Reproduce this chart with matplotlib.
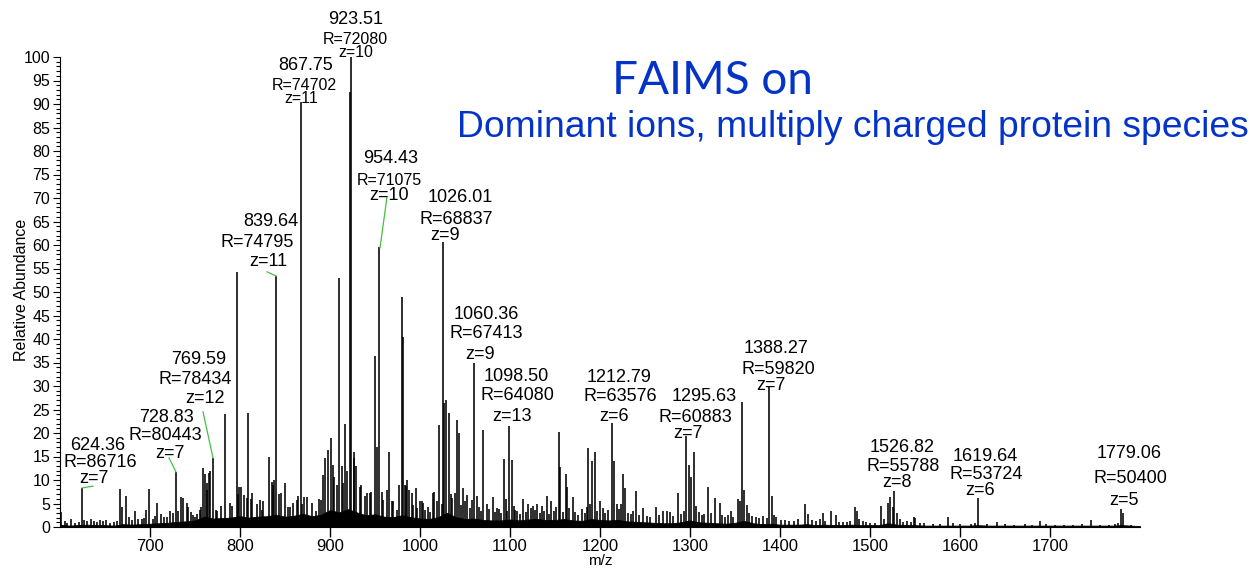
import numpy as np
import matplotlib.pyplot as plt
from matplotlib.ticker import MultipleLocator

plt.rcParams['font.family'] = ['Liberation Sans', 'DejaVu Sans']

# labelled ions: m/z, relative abundance, resolution, charge
ann_mz = [624.36, 728.83, 769.59, 839.64, 867.75, 923.51, 954.43, 1026.01,
          1060.36, 1098.50, 1212.79, 1295.63, 1388.27, 1526.82, 1619.64, 1779.06]
ann_ab = [8.3, 11.7, 14.7, 53.4, 90.5, 100.0, 59.5, 60.6,
          34.8, 21.4, 22.2, 19.3, 29.7, 7.6, 6.1, 3.8]
ann_res = [86716, 80443, 78434, 74795, 74702, 72080, 71075, 68837,
           67413, 64080, 63576, 60883, 59820, 55788, 53724, 50400]
ann_z = [7, 7, 12, 11, 11, 10, 10, 9, 9, 13, 6, 7, 7, 8, 6, 5]

# other centroids
peak_mz = [601, 612, 630, 644, 656, 667, 668.5, 673, 683, 691, 696, 699, 708, 718.5,
           722, 734, 740.7, 742.6, 750, 759, 761, 763, 767, 774, 779, 783, 790.7,
           796.6, 798, 801, 804.8, 809, 811.9, 818.5, 824, 832, 836.3, 843, 850,
           853.7, 859, 864, 871, 874.8, 879.6, 888, 894.4, 897.8, 901, 903, 907.4,
           910, 913, 917, 918.5, 922.5, 927, 929, 934.4, 940.7, 946, 950, 952,
           957.4, 965, 968.5, 974, 980, 981, 984.4, 988, 990.7, 995.5, 1002, 1015,
           1021, 1027, 1029, 1032.6, 1036, 1040.7, 1043, 1048, 1052, 1063, 1070.4,
           1074.4, 1080.7, 1085, 1093, 1095.6, 1102, 1114.8, 1120, 1125, 1130, 1135,
           1140.7, 1146, 1154, 1156, 1162, 1163.7, 1169.6, 1179.6, 1187, 1191, 1194,
           1200, 1215, 1218.5, 1226, 1227.8, 1240, 1248, 1262, 1270, 1274, 1277.8,
           1287, 1299.3, 1301, 1304.4, 1320.4, 1327.8, 1333, 1345, 1353.7, 1355.6,
           1358, 1360, 1363, 1390.7, 1396, 1401, 1428, 1431, 1447.4, 1456.3, 1461.9,
           1474, 1483.3, 1485, 1491.9, 1500, 1512, 1520, 1522, 1525, 1530, 1537,
           1549, 1550, 1570, 1587, 1640.7, 1688.9, 1746, 1772, 1781]
peak_ab = [3.2, 1.8, 1.3, 1.5, 0.9, 8.0, 4.3, 6.6, 3.5, 1.6, 3.6, 8.1, 5.1, 2.1,
           3.4, 6.4, 5.1, 4.2, 2.1, 12.6, 11.2, 9.4, 12.0, 3.4, 4.5, 24.0, 4.5,
           54.3, 7.0, 8.6, 6.8, 24.3, 6.0, 5.0, 3.6, 15.0, 8.9, 7.0, 9.3,
           4.3, 5.2, 6.5, 6.4, 6.4, 5.1, 6.0, 14.7, 16.4, 19.0, 13.2, 9.0,
           53.0, 13.0, 22.0, 12.0, 92.5, 16.0, 13.0, 9.0, 7.3, 7.5, 36.4, 17.0,
           7.5, 16.0, 5.5, 3.6, 49.0, 40.4, 8.7, 7.9, 7.3, 8.3, 5.5, 7.4,
           21.8, 26.4, 27.0, 24.3, 6.2, 22.8, 20.0, 8.3, 6.8, 6.6, 20.6,
           4.9, 6.4, 4.0, 14.4, 6.0, 14.2, 5.9, 5.0, 4.5, 5.0, 4.5,
           6.6, 5.5, 20.2, 12.8, 11.2, 8.5, 6.3, 3.8, 16.8, 14.0, 16.0,
           5.5, 14.0, 4.8, 11.2, 8.3, 7.6, 4.1, 4.2, 3.5, 3.3, 3.2,
           7.2, 13.2, 10.7, 16.0, 8.6, 6.2, 5.1, 3.4, 6.0, 5.5,
           26.7, 7.9, 4.7, 6.5, 2.2, 1.5, 5.0, 2.8, 3.0, 3.5, 2.5,
           1.0, 4.3, 3.5, 1.3, 0.9, 4.5, 5.1, 6.3, 4.2, 3.0, 1.0,
           2.2, 2.0, 0.7, 2.1, 1.1, 1.2, 1.5, 0.7, 3.0]

# low-level grass between the main centroids
grass_mz = [605, 608, 617, 621, 627, 634, 638, 641, 648, 651, 660, 663, 677, 680,
            687, 693, 703, 705, 712, 715, 725, 731, 737, 745, 747.4, 752, 755, 757,
            763.7, 766, 773.3, 788.9, 799, 807.4, 813, 822, 826, 835, 838, 845,
            855.6, 863, 868.5, 884.6, 890, 892.6, 904.4, 914, 926.7, 933.3, 938.9,
            944, 959, 963, 970, 977, 983.3, 986, 992.6, 997, 1000, 1003.7, 1006,
            1009, 1011, 1014.8, 1018.5, 1024, 1034, 1038.9, 1046, 1050, 1055,
            1057.4, 1066, 1068, 1077, 1083, 1088, 1090, 1097, 1104, 1106, 1108,
            1111, 1118, 1123, 1128, 1133, 1138, 1143, 1149, 1151, 1159, 1166, 1172,
            1175, 1183, 1185, 1189, 1197, 1203, 1206, 1209, 1221, 1223, 1231, 1234,
            1237, 1243, 1252, 1256, 1265, 1281, 1290, 1293, 1307, 1310, 1313, 1316,
            1323, 1336, 1339, 1342, 1348, 1366, 1369, 1373, 1377, 1381, 1385, 1393,
            1405, 1410, 1415, 1420, 1435, 1440, 1444, 1450, 1466, 1470, 1478, 1488,
            1495, 1505, 1515, 1533, 1541, 1545, 1555, 1560, 1578, 1592, 1600, 1612,
            1617, 1630, 1650, 1660, 1672, 1680, 1695, 1705, 1715, 1725, 1735, 1755,
            1765, 1776, 1790]
grass_ab = [1.2, 0.8, 0.9, 1.1, 1.4, 1.6, 1.2, 1.0, 1.2, 1.4, 1.0, 1.2, 2.2, 1.4,
            1.8, 2.0, 1.8, 2.4, 2.8, 2.2, 3.0, 3.5, 6.1, 3.2, 2.6, 2.8, 3.6, 4.2,
            7.9, 11.4, 3.6, 5.1, 8.6, 6.2, 7.2, 5.7, 5.5, 9.6, 10.0, 7.2,
            4.3, 5.7, 4.8, 3.3, 5.7, 11.0, 10.7, 9.3, 14.7, 8.6, 6.5,
            7.2, 5.7, 7.9, 5.5, 8.9, 8.9, 10.0, 4.7, 4.0, 5.5, 5.1, 3.6,
            4.2, 3.2, 7.2, 5.5, 5.0, 7.0, 7.2, 4.6, 5.5, 4.0,
            5.7, 4.3, 3.5, 3.8, 3.2, 3.8, 3.0, 3.5, 4.5, 3.6, 3.5,
            2.8, 3.2, 4.0, 3.6, 3.0, 3.3, 2.8, 3.5, 4.2, 3.1, 4.0, 3.2,
            2.6, 3.0, 4.2, 5.0, 3.4, 4.0, 3.0, 3.6, 3.8, 5.0, 3.0, 2.8,
            3.5, 2.6, 2.4, 2.2, 2.6, 2.3, 2.8, 3.5, 4.5, 3.2, 2.5, 2.8,
            3.0, 2.6, 2.2, 2.5, 2.2, 3.0, 2.4, 2.2, 2.0, 2.4, 2.0, 2.6,
            1.4, 1.2, 1.3, 1.6, 1.4, 1.2, 1.6, 1.3, 1.0, 1.1, 1.3, 1.6,
            1.0, 0.9, 1.6, 1.6, 1.2, 1.0, 0.8, 0.9, 0.7, 0.8, 0.7, 0.6,
            0.8, 0.6, 0.6, 0.5, 0.6, 0.5, 0.6, 0.5, 0.5, 0.5, 0.6, 0.5,
            0.5, 0.8, 0.5]

# noise floor, every 10 m/z from 600 to 1800
floor_ab = [0.5, 0.3, 0.4, 0.5, 0.4, 0.4, 0.3, 0.6, 0.5, 0.6,
            0.7, 0.8, 0.9, 1.1, 1.2, 1.4, 2.2, 1.8, 1.9, 2.0,
            2.3, 2.0, 2.2, 2.3, 2.6, 2.2, 2.4, 2.8, 2.3, 2.6,
            3.6, 3.1, 3.8, 3.1, 2.5, 2.7, 2.2, 2.1, 2.5, 2.1,
            1.8, 1.7, 2.1, 3.0, 2.1, 1.7, 1.8, 1.5, 1.4, 1.4,
            1.6, 1.4, 1.6, 1.7, 1.5, 1.5, 1.7, 1.4, 1.3, 1.7,
            1.5, 1.4, 1.5, 1.2, 1.1, 1.0, 0.9, 0.8, 0.8, 1.0,
            1.4, 1.0, 0.9, 0.8, 0.7, 0.9, 1.3, 0.8, 0.6, 0.7,
            0.5, 0.5, 0.5, 0.6, 0.4, 0.5, 0.4, 0.4, 0.5, 0.4,
            0.4, 0.4, 0.8, 0.5, 0.4, 0.4, 0.3, 0.3, 0.3, 0.3,
            0.3, 0.3, 0.4, 0.3, 0.3, 0.3, 0.3, 0.3, 0.3, 0.3,
            0.3, 0.3, 0.3, 0.3, 0.3, 0.3, 0.3, 0.3, 0.4, 0.3, 0.2]
floor_mz = np.arange(600, 1801, 10)

# text placement for each labelled ion: (m/z, abundance) of the three lines
label_pos = [
    [(642.2, 17.4), (644.4, 13.8), (637.8, 10.4)],
    [(717.8, 23.4), (717.2, 19.4), (722.2, 15.7)],
    [(754.4, 35.7), (750.0, 31.3), (761.1, 27.4)],
    [(834.4, 65.1), (818.9, 60.6), (831.1, 56.4)],
    [(873.3, 98.1), (871.1, 94.0), (867.8, 91.1)],
    [(928.9, 107.9), (927.8, 103.8), (928.9, 100.9)],
    [(967.8, 78.5), (965.6, 73.8), (965.6, 70.6)],
    [(1045.0, 70.0), (1040.0, 65.5), (1027.8, 62.1)],
    [(1073.3, 45.3), (1073.3, 41.1), (1066.7, 36.8)],
    [(1106.7, 32.1), (1107.8, 27.9), (1102.2, 23.6)],
    [(1221.1, 31.9), (1222.2, 27.7), (1215.6, 23.6)],
    [(1315.6, 27.7), (1305.6, 23.4), (1297.8, 19.8)],
    [(1395.6, 37.9), (1397.8, 33.6), (1390.0, 30.0)],
    [(1535.6, 17.0), (1536.7, 12.8), (1530.0, 9.4)],
    [(1627.8, 14.9), (1628.9, 11.1), (1622.2, 7.7)],
    [(1788.3, 15.7), (1789.4, 10.4), (1782.2, 5.7)],
]
small_rz = {867.75: (11.5, 11.5), 923.51: (11.5, 11.5), 954.43: (11.5, 13)}

# green leader lines: text end -> peak top
leaders = [((624.4, 8.3), (636.7, 8.7)),
           ((721.1, 14.7), (728.9, 11.7)),
           ((758.9, 24.5), (770.0, 14.7)),
           ((830.0, 54.3), (840.0, 53.4)),
           ((963.3, 70.2), (955.6, 59.4))]

fig = plt.figure(figsize=(12.54, 5.68), dpi=100)
ax = fig.add_axes([60 / 1254, 41 / 568, 1080 / 1254, 470 / 568])

ax.fill_between(floor_mz, 0, floor_ab, color='black', lw=0.6)
ax.vlines(grass_mz, 0, grass_ab, color='black', lw=1.15)
ax.vlines(peak_mz + ann_mz, 0, peak_ab + ann_ab, color='black', lw=1.15)

for i, mz in enumerate(ann_mz):
    rs, zs = small_rz.get(mz, (13, 13))
    lines = [f"{mz:.2f}", f"R={ann_res[i]}", f"z={ann_z[i]}"]
    for txt, (x, y), fs in zip(lines, label_pos[i], (13, rs, zs)):
        ax.text(x, y, txt, fontsize=fs, ha='center', va='center', clip_on=False)

for (x0, y0), (x1, y1) in leaders:
    ax.plot([x0, x1], [y0, y1], color='#45c045', lw=0.9)

ax.set_xlim(600, 1800)
ax.set_ylim(0, 100)
ax.spines['top'].set_visible(False)
ax.spines['right'].set_visible(False)
ax.set_xticks(np.arange(700, 1701, 100))
ax.yaxis.set_major_locator(MultipleLocator(5))
ax.yaxis.set_minor_locator(MultipleLocator(1))
ax.tick_params(axis='x', labelsize=12, length=7, width=1, pad=1.5)
ax.tick_params(axis='y', which='major', labelsize=11.5, length=5, width=0.8, pad=2)
ax.tick_params(axis='y', which='minor', length=3, width=0.8)

fig.text(22 / 1254, 1 - 290 / 568, 'Relative Abundance', rotation=90,
         ha='center', va='center', fontsize=11.5)
fig.text(600 / 1254, 1 - 561 / 568, 'm/z', ha='center', va='center', fontsize=11)

fig.text(712 / 1254, 1 - 94 / 568, 'FAIMS on', ha='center', va='baseline',
         fontsize=33, color='#0433c8', family=['Lato', 'DejaVu Sans'])
fig.text(457 / 1254, 1 - 137 / 568, 'Dominant ions, multiply charged protein species',
         ha='left', va='baseline', fontsize=26.8, color='#0433c8')

fig.savefig('out.png', dpi=100)
